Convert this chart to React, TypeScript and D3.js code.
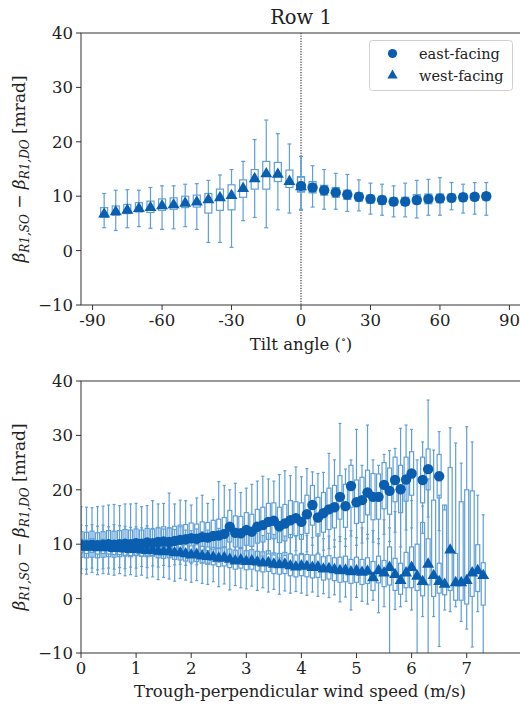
import React from "react";
import * as d3 from "d3";

// ---------- Top panel data (tilt angle) ----------
const tiltWest = [-85, -80, -75, -70, -65, -60, -55, -50, -45, -40, -35, -30, -25, -20, -15, -10, -5, 0];
const westMeanT = [6.9, 7.3, 7.6, 7.9, 8.1, 8.4, 8.6, 8.9, 9.1, 9.5, 9.9, 10.3, 11.6, 13.4, 14.3, 14.2, 12.9, 11.9];
const westHiT = [10.5, 11.1, 11.2, 11.1, 11.6, 11.9, 11.9, 12.2, 12.3, 12.9, 13.9, 14.9, 16.4, 20.4, 24.0, 21.5, 19.6, 17.3];
const westLoT = [4.2, 3.7, 4.2, 4.4, 4.1, 3.9, 4.0, 4.4, 3.9, 1.5, 1.5, 0.6, 5.5, 6.1, 4.2, 7.5, 6.9, 7.4];
const westQ1T = [6.1, 6.5, 6.8, 7.1, 7.0, 7.4, 7.6, 7.9, 8.0, 6.9, 7.4, 7.5, 9.8, 11.3, 11.3, 12.7, 11.6, 10.8];
const westQ3T = [7.9, 8.2, 8.5, 8.8, 9.1, 9.5, 9.7, 10.0, 10.2, 10.5, 11.3, 12.1, 13.0, 14.9, 16.4, 16.2, 14.8, 13.6];

const tiltEast = [0, 5, 10, 15, 20, 25, 30, 35, 40, 45, 50, 55, 60, 65, 70, 75, 80];
const eastMeanT = [11.9, 11.6, 11.1, 10.7, 10.3, 9.9, 9.5, 9.3, 9.0, 9.0, 9.3, 9.5, 9.6, 9.7, 9.8, 9.9, 10.0];
const eastHiT = [17.3, 15.6, 14.9, 14.2, 14.0, 13.0, 12.4, 12.2, 11.9, 12.4, 12.9, 13.1, 13.4, 12.5, 12.2, 12.5, 12.5];
const eastLoT = [7.6, 8.0, 7.6, 7.6, 7.2, 7.3, 6.7, 6.5, 6.2, 6.2, 6.0, 6.5, 6.5, 7.5, 6.9, 6.7, 6.5];
const eastQ1T = [10.8, 10.6, 10.2, 9.8, 9.4, 9.1, 8.7, 8.5, 8.3, 8.3, 8.6, 8.6, 8.8, 9.0, 9.1, 9.2, 9.3];
const eastQ3T = [13.5, 12.7, 12.0, 11.6, 11.1, 10.6, 10.2, 10.0, 9.7, 9.8, 10.3, 10.4, 10.4, 10.4, 10.5, 10.5, 10.6];

// ---------- Bottom panel data (wind speed bins) ----------
const windBins = [
  0.0, 0.1, 0.2, 0.3, 0.4, 0.5, 0.6, 0.7, 0.8, 0.9,
  1.0, 1.1, 1.2, 1.3, 1.4, 1.5, 1.6, 1.7, 1.8, 1.9,
  2.0, 2.1, 2.2, 2.3, 2.4, 2.5, 2.6, 2.7, 2.8, 2.9,
  3.0, 3.1, 3.2, 3.3, 3.4, 3.5, 3.6, 3.7, 3.8, 3.9,
  4.0, 4.1, 4.2, 4.3, 4.4, 4.5, 4.6, 4.7, 4.8, 4.9,
  5.0, 5.1, 5.2, 5.3, 5.4, 5.5, 5.6, 5.7, 5.8, 5.9,
  6.0, 6.1, 6.2, 6.3, 6.4, 6.5, 6.6, 6.7, 6.8, 6.9,
  7.0, 7.1, 7.2, 7.3,
];

const eastMeanW = [
  9.9, 9.8, 9.9, 9.8, 9.9, 10.0, 9.9, 10.0, 10.1, 10.0,
  10.2, 10.1, 10.3, 10.2, 10.4, 10.5, 10.4, 10.6, 10.8, 10.9,
  11.1, 11.0, 11.3, 11.2, 11.5, 11.6, 11.9, 13.2, 12.1, 12.0,
  12.6, 12.3, 13.2, 13.5, 14.1, 14.3, 13.3, 13.8, 14.4, 14.8,
  14.1, 15.5, 17.2, 14.9, 15.7, 16.4, 16.8, 18.7, 17.0, 20.7,
  17.7, 18.1, 19.5, 18.7, 18.7, 20.9, 19.8, 21.8, 20.1, 21.9,
  23.0, null, 21.8, 23.8, null, 22.5,
];
const eastHiW = [
  16.9, 16.8, 16.7, 16.9, 17.0, 17.2, 17.3, 17.1, 17.4, 17.4,
  17.5, 16.9, 17.1, 18.0, 17.4, 17.5, 19.4, 17.4, 18.1, 18.0,
  17.2, 18.5, 19.0, 17.5, 18.2, 21.5, 20.8, 20.0, 21.2, 19.5,
  20.3, 21.0, 21.6, 22.5, 22.0, 21.6, 22.8, 23.5, 22.6, 24.2,
  22.4, 23.9, 23.3, 23.0, 23.2, 26.7, 25.5, 32.2, 23.8, 25.5,
  31.1, 24.5, 31.9, 25.5, 24.5, 26.5, 27.2, 27.6, 31.3, 31.9,
  31.1, null, 28.8, 36.5, null, 30.7,
];
const eastLoW = [
  5.5, 5.4, 5.6, 5.3, 5.5, 5.6, 5.4, 5.7, 5.5, 5.8,
  5.6, 5.9, 5.7, 6.0, 5.8, 6.1, 5.9, 6.2, 6.3, 6.1,
  6.4, 6.2, 6.6, 6.5, 6.8, 6.7, 7.0, 7.5, 7.1, 6.9,
  7.3, 7.0, 7.6, 7.8, 8.2, 8.0, 7.5, 7.9, 8.3, 8.8,
  8.1, 8.6, 9.8, 8.4, 8.9, 9.2, 9.5, 10.5, 9.6, 11.5,
  9.8, 10.2, 11.0, 10.4, 10.1, 11.8, 10.5, 12.2, 9.5, 12.6,
  13.0, null, 12.0, 15.0, null, 12.5,
];
const eastQ1W = [
  7.6, 7.5, 7.6, 7.5, 7.6, 7.7, 7.6, 7.7, 7.8, 7.7,
  7.9, 7.8, 8.0, 7.9, 8.1, 8.2, 8.1, 8.3, 8.4, 8.6,
  8.7, 8.6, 8.9, 8.8, 9.1, 9.2, 9.4, 10.4, 9.5, 9.4,
  9.8, 9.6, 10.2, 10.4, 10.9, 11.0, 10.3, 10.6, 11.2, 11.6,
  10.9, 12.0, 13.5, 11.5, 12.2, 12.7, 13.0, 14.6, 13.1, 16.8,
  13.8, 14.0, 15.4, 14.5, 14.6, 16.5, 15.5, 17.8, 15.8, 17.9,
  19.0, null, 17.6, 20.0, null, 18.5,
];
const eastQ3W = [
  12.3, 12.2, 12.4, 12.1, 12.3, 12.5, 12.4, 12.5, 12.7, 12.6,
  12.8, 12.6, 12.9, 12.8, 13.0, 13.2, 13.0, 13.3, 13.5, 13.6,
  13.9, 13.7, 14.1, 14.0, 14.4, 14.6, 14.9, 16.2, 15.2, 15.1,
  15.8, 15.5, 16.4, 16.8, 17.5, 17.6, 16.8, 17.3, 18.0, 17.8,
  17.6, 19.0, 20.8, 18.6, 19.5, 20.3, 20.8, 22.6, 21.0, 24.5,
  21.8, 22.3, 23.6, 23.0, 22.9, 25.0, 24.0, 26.0, 24.5, 26.0,
  27.0, null, 26.0, 27.5, null, 26.5,
];

const westMeanW = [
  9.7, 9.6, 9.7, 9.5, 9.6, 9.5, 9.4, 9.4, 9.3, 9.2,
  9.3, 9.1, 9.0, 9.1, 8.9, 8.8, 8.9, 8.6, 8.6, 8.4,
  8.2, 8.3, 8.0, 7.9, 7.8, 7.6, 7.7, 7.4, 7.1, 7.3,
  7.0, 7.1, 6.9, 6.7, 6.8, 6.5, 6.4, 6.5, 6.2, 6.0,
  6.2, 6.1, 5.9, 6.0, 5.6, 5.7, 5.5, 5.3, 5.4, 5.1,
  5.3, 5.0, 5.2, 4.0, 5.3, 4.9, 5.9, 4.6, 3.5, 4.9,
  5.9, 4.3, 3.3, 6.5, 4.4, 3.3, 2.8, 9.1, 3.1, 3.1,
  3.5, 4.9, 5.3, 4.4,
];
const westHiW = [
  13.5, 13.4, 13.6, 13.3, 13.5, 13.2, 13.6, 13.4, 13.3, 13.1,
  13.2, 13.0, 13.4, 12.9, 13.1, 12.8, 13.0, 12.7, 13.2, 12.6,
  12.5, 12.8, 12.3, 12.6, 12.2, 12.9, 12.0, 13.0, 11.8, 12.4,
  12.2, 11.9, 12.5, 11.6, 12.0, 11.8, 12.3, 11.5, 11.8, 11.4,
  11.8, 11.6, 11.2, 11.9, 11.0, 11.5, 10.8, 11.4, 11.0, 12.5,
  11.2, 13.0, 11.8, 12.5, 11.0, 14.5, 13.0, 16.0, 20.0, 22.0,
  18.0, 25.5, 17.0, 22.0, 27.3, 19.0, 16.3, 31.4, 28.6, 24.9,
  31.6, 28.8, 19.0, 15.4,
];
const westLoW = [
  4.6, 4.5, 4.8, 4.4, 4.6, 4.5, 4.3, 4.6, 4.2, 4.4,
  4.1, 4.3, 3.8, 4.0, 3.5, 3.9, 3.6, 3.2, 3.7, 3.4,
  3.0, 3.3, 2.8, 2.6, 3.1, 2.2, 2.7, 1.6, 2.4, 2.0,
  1.8, 2.3, 1.5, 2.0, 1.2, 1.7, 0.8, 1.4, 1.0, 1.3,
  1.0, 0.6, 1.2, 0.4, 0.9, 0.2, 0.7, -0.6, 0.3, -2.1,
  0.2, -0.5, -1.0, -0.3, -2.6, -1.5, -12.0, -2.0, -1.5, -0.5,
  -2.1, -12.0, -3.3, -12.0, -3.3, -8.8, -2.1, -2.4, -1.5, -4.2,
  -5.6, -8.9, -2.4, -12.0,
];
const westQ1W = [
  8.4, 8.3, 8.5, 8.2, 8.3, 8.2, 8.1, 8.1, 8.0, 7.9,
  8.0, 7.8, 7.7, 7.8, 7.5, 7.4, 7.5, 7.2, 7.1, 6.9,
  6.7, 6.8, 6.5, 6.3, 6.2, 5.9, 6.0, 5.7, 5.4, 5.6,
  5.3, 5.4, 5.1, 4.9, 5.0, 4.6, 4.5, 4.6, 4.2, 4.0,
  4.2, 4.0, 3.8, 3.9, 3.4, 3.6, 3.3, 3.0, 3.1, 2.8,
  3.0, 2.6, 2.8, 1.5, 2.9, 2.2, 2.5, 1.5, 0.8, 2.0,
  2.0, 1.5, 0.5, 2.5, 0.4, 1.0, 0.7, 1.5, -0.3, -0.3,
  -1.0, 0.4, 1.3, -1.2,
];
const westQ3W = [
  10.9, 10.8, 11.0, 10.7, 10.9, 10.8, 10.6, 10.7, 10.5, 10.4,
  10.6, 10.4, 10.3, 10.5, 10.2, 10.1, 10.3, 10.0, 10.1, 9.9,
  9.7, 9.9, 9.6, 9.5, 9.4, 9.3, 9.5, 9.1, 8.9, 9.2,
  8.8, 9.0, 8.7, 8.6, 8.8, 8.4, 8.3, 8.5, 8.2, 8.0,
  8.3, 8.1, 8.0, 8.2, 7.7, 7.9, 7.5, 7.6, 7.8, 7.2,
  7.6, 7.2, 7.5, 6.8, 7.8, 7.0, 9.5, 7.4, 6.5, 8.5,
  9.5, 10.0, 14.0, 11.0, 18.1, 6.5, 17.2, 24.1, 8.3, 17.8,
  20.0, 19.8, 9.9, 6.6,
];

// ---------- Tick labels ----------
const yTicks = [-10, 0, 10, 20, 30, 40];
const tiltTicks = [-90, -60, -30, 0, 30, 60, 90];
const windTicks = [0, 1, 2, 3, 4, 5, 6, 7];
const legendLabels = ["east-facing", "west-facing"];

const FONT = "'DejaVu Serif', serif";
const MARK = "#0a5eb0";
const LIGHT = "#5f9fd8";
const AX = "#333";

type Stats = {
  x: number[];
  mean: (number | null)[];
  lo: (number | null)[];
  hi: (number | null)[];
  q1: (number | null)[];
  q3: (number | null)[];
};

function Boxes({ s, xs, ys, boxW, capW }: { s: Stats; xs: any; ys: any; boxW: number; capW: number }) {
  const out: React.ReactNode[] = [];
  s.x.forEach((xv, i) => {
    const m = s.mean[i];
    if (m === null || m === undefined) return;
    const X = xs(xv);
    const lo = ys(s.lo[i] as number);
    const hi = ys(s.hi[i] as number);
    const q1 = ys(s.q1[i] as number);
    const q3 = ys(s.q3[i] as number);
    out.push(
      <g key={i} stroke={LIGHT} strokeWidth={1.2} fill="none">
        <line x1={X} x2={X} y1={lo} y2={q1} />
        <line x1={X} x2={X} y1={q3} y2={hi} />
        <line x1={X - capW / 2} x2={X + capW / 2} y1={lo} y2={lo} />
        <line x1={X - capW / 2} x2={X + capW / 2} y1={hi} y2={hi} />
        <rect x={X - boxW / 2} y={q3} width={boxW} height={Math.max(0.5, q1 - q3)} />
      </g>
    );
  });
  return <g>{out}</g>;
}

const triPath = d3.symbol(d3.symbolTriangle, 62)() as string;

function Markers({ s, xs, ys, kind }: { s: Stats; xs: any; ys: any; kind: "c" | "t" }) {
  return (
    <g fill={MARK}>
      {s.x.map((xv, i) => {
        const m = s.mean[i];
        if (m === null || m === undefined) return null;
        return kind === "c" ? (
          <circle key={i} cx={xs(xv)} cy={ys(m)} r={5.2} />
        ) : (
          <path key={i} d={triPath} transform={`translate(${xs(xv)},${ys(m) + 1})`} />
        );
      })}
    </g>
  );
}

function YLabel({ x, y }: { x: number; y: number }) {
  return (
    <text
      transform={`translate(${x},${y}) rotate(-90)`}
      textAnchor="middle"
      fontFamily={FONT}
      fontSize={17}
      fill="#222"
    >
      <tspan fontStyle="italic">β</tspan>
      <tspan fontStyle="italic" fontSize={12} dy={4}>R1,SO</tspan>
      <tspan dy={-4}> − </tspan>
      <tspan fontStyle="italic">β</tspan>
      <tspan fontStyle="italic" fontSize={12} dy={4}>R1,DO</tspan>
      <tspan dy={-4}> [mrad]</tspan>
    </text>
  );
}

function Axes({
  xs,
  ys,
  xTicks,
  fmtX,
  top,
  bottom,
  left,
  right,
}: {
  xs: any;
  ys: any;
  xTicks: number[];
  fmtX: (v: number) => string;
  top: number;
  bottom: number;
  left: number;
  right: number;
}) {
  return (
    <g fontFamily={FONT} fill="#222">
      <rect x={left} y={top} width={right - left} height={bottom - top} fill="none" stroke={AX} strokeWidth={1} />
      {yTicks.map((t) => (
        <g key={"y" + t}>
          <line x1={left - 5} x2={left} y1={ys(t)} y2={ys(t)} stroke={AX} />
          <text x={left - 8} y={ys(t) + 6} textAnchor="end" fontSize={16.5}>
            {t < 0 ? "−" + Math.abs(t) : String(t)}
          </text>
        </g>
      ))}
      {xTicks.map((t) => (
        <g key={"x" + t}>
          <line x1={xs(t)} x2={xs(t)} y1={bottom} y2={bottom + 5} stroke={AX} />
          <text x={xs(t)} y={bottom + 21} textAnchor="middle" fontSize={16.5}>
            {fmtX(t)}
          </text>
        </g>
      ))}
    </g>
  );
}

export default function App() {
  const L = 81;
  const R = 521;
  const xTop = d3.scaleLinear().domain([-95, 95]).range([L, R]);
  const yTop = d3.scaleLinear().domain([-10, 40]).range([305, 33]);
  const xBot = d3.scaleLinear().domain([0, 8]).range([L, 81 + 8 * 55.1]);
  const yBot = d3.scaleLinear().domain([-10, 40]).range([653, 381]);

  const westT: Stats = { x: tiltWest, mean: westMeanT, lo: westLoT, hi: westHiT, q1: westQ1T, q3: westQ3T };
  const eastT: Stats = { x: tiltEast, mean: eastMeanT, lo: eastLoT, hi: eastHiT, q1: eastQ1T, q3: eastQ3T };
  const eastB: Stats = {
    x: windBins.slice(0, eastMeanW.length),
    mean: eastMeanW,
    lo: eastLoW,
    hi: eastHiW,
    q1: eastQ1W,
    q3: eastQ3W,
  };
  const westB: Stats = { x: windBins, mean: westMeanW, lo: westLoW, hi: westHiW, q1: westQ1W, q3: westQ3W };

  return (
    <svg width={520} height={706} style={{ position: "absolute", left: 0, top: 0, background: "#fff" }}>
      <defs>
        <clipPath id="clipTop">
          <rect x={L} y={33} width={R - L} height={272} />
        </clipPath>
        <clipPath id="clipBot">
          <rect x={L} y={381} width={R - L} height={272} />
        </clipPath>
      </defs>
      <rect x={0} y={0} width={520} height={706} fill="#fff" />

      {/* Title */}
      <text x={301} y={24} textAnchor="middle" fontFamily={FONT} fontSize={19.5} fill="#222">
        Row 1
      </text>

      {/* Top panel */}
      <g clipPath="url(#clipTop)">
        <line x1={xTop(0)} x2={xTop(0)} y1={33} y2={305} stroke="#111" strokeWidth={1} strokeDasharray="1.2,1.4" />
        <Boxes s={westT} xs={xTop} ys={yTop} boxW={7} capW={4} />
        <Boxes s={eastT} xs={xTop} ys={yTop} boxW={7} capW={4} />
        <Markers s={westT} xs={xTop} ys={yTop} kind="t" />
        <Markers s={eastT} xs={xTop} ys={yTop} kind="c" />
      </g>
      <Axes xs={xTop} ys={yTop} xTicks={tiltTicks} fmtX={(v) => String(v)} top={33} bottom={305} left={L} right={R} />
      <YLabel x={25} y={169} />
      <text x={301} y={350} textAnchor="middle" fontFamily={FONT} fontSize={16.5} fill="#222">
        Tilt angle (<tspan fontSize={10} dy={-7}>∘</tspan>
        <tspan dy={7}>)</tspan>
      </text>

      {/* Legend */}
      <g fontFamily={FONT} fontSize={14.5} fill="#222">
        <rect x={369.5} y={40.5} width={143} height={50} rx={3} fill="#fff" fillOpacity={0.8} stroke="#d0d0d0" />
        <circle cx={392.5} cy={53.5} r={4.6} fill={MARK} />
        <path d={d3.symbol(d3.symbolTriangle, 45)() as string} transform="translate(392.5,75.5)" fill={MARK} />
        <text x={419} y={58.5}>{legendLabels[0]}</text>
        <text x={419} y={80.5}>{legendLabels[1]}</text>
      </g>

      {/* Bottom panel */}
      <g clipPath="url(#clipBot)">
        <Boxes s={eastB} xs={xBot} ys={yBot} boxW={4} capW={3} />
        <Boxes s={westB} xs={xBot} ys={yBot} boxW={4} capW={3} />
        <Markers s={westB} xs={xBot} ys={yBot} kind="t" />
        <Markers s={eastB} xs={xBot} ys={yBot} kind="c" />
      </g>
      <Axes xs={xBot} ys={yBot} xTicks={windTicks} fmtX={(v) => String(v)} top={381} bottom={653} left={L} right={R} />
      <YLabel x={25} y={517} />
      <text x={300} y={697} textAnchor="middle" fontFamily={FONT} fontSize={16.5} fill="#222">
        Trough-perpendicular wind speed (m/s)
      </text>
    </svg>
  );
}
